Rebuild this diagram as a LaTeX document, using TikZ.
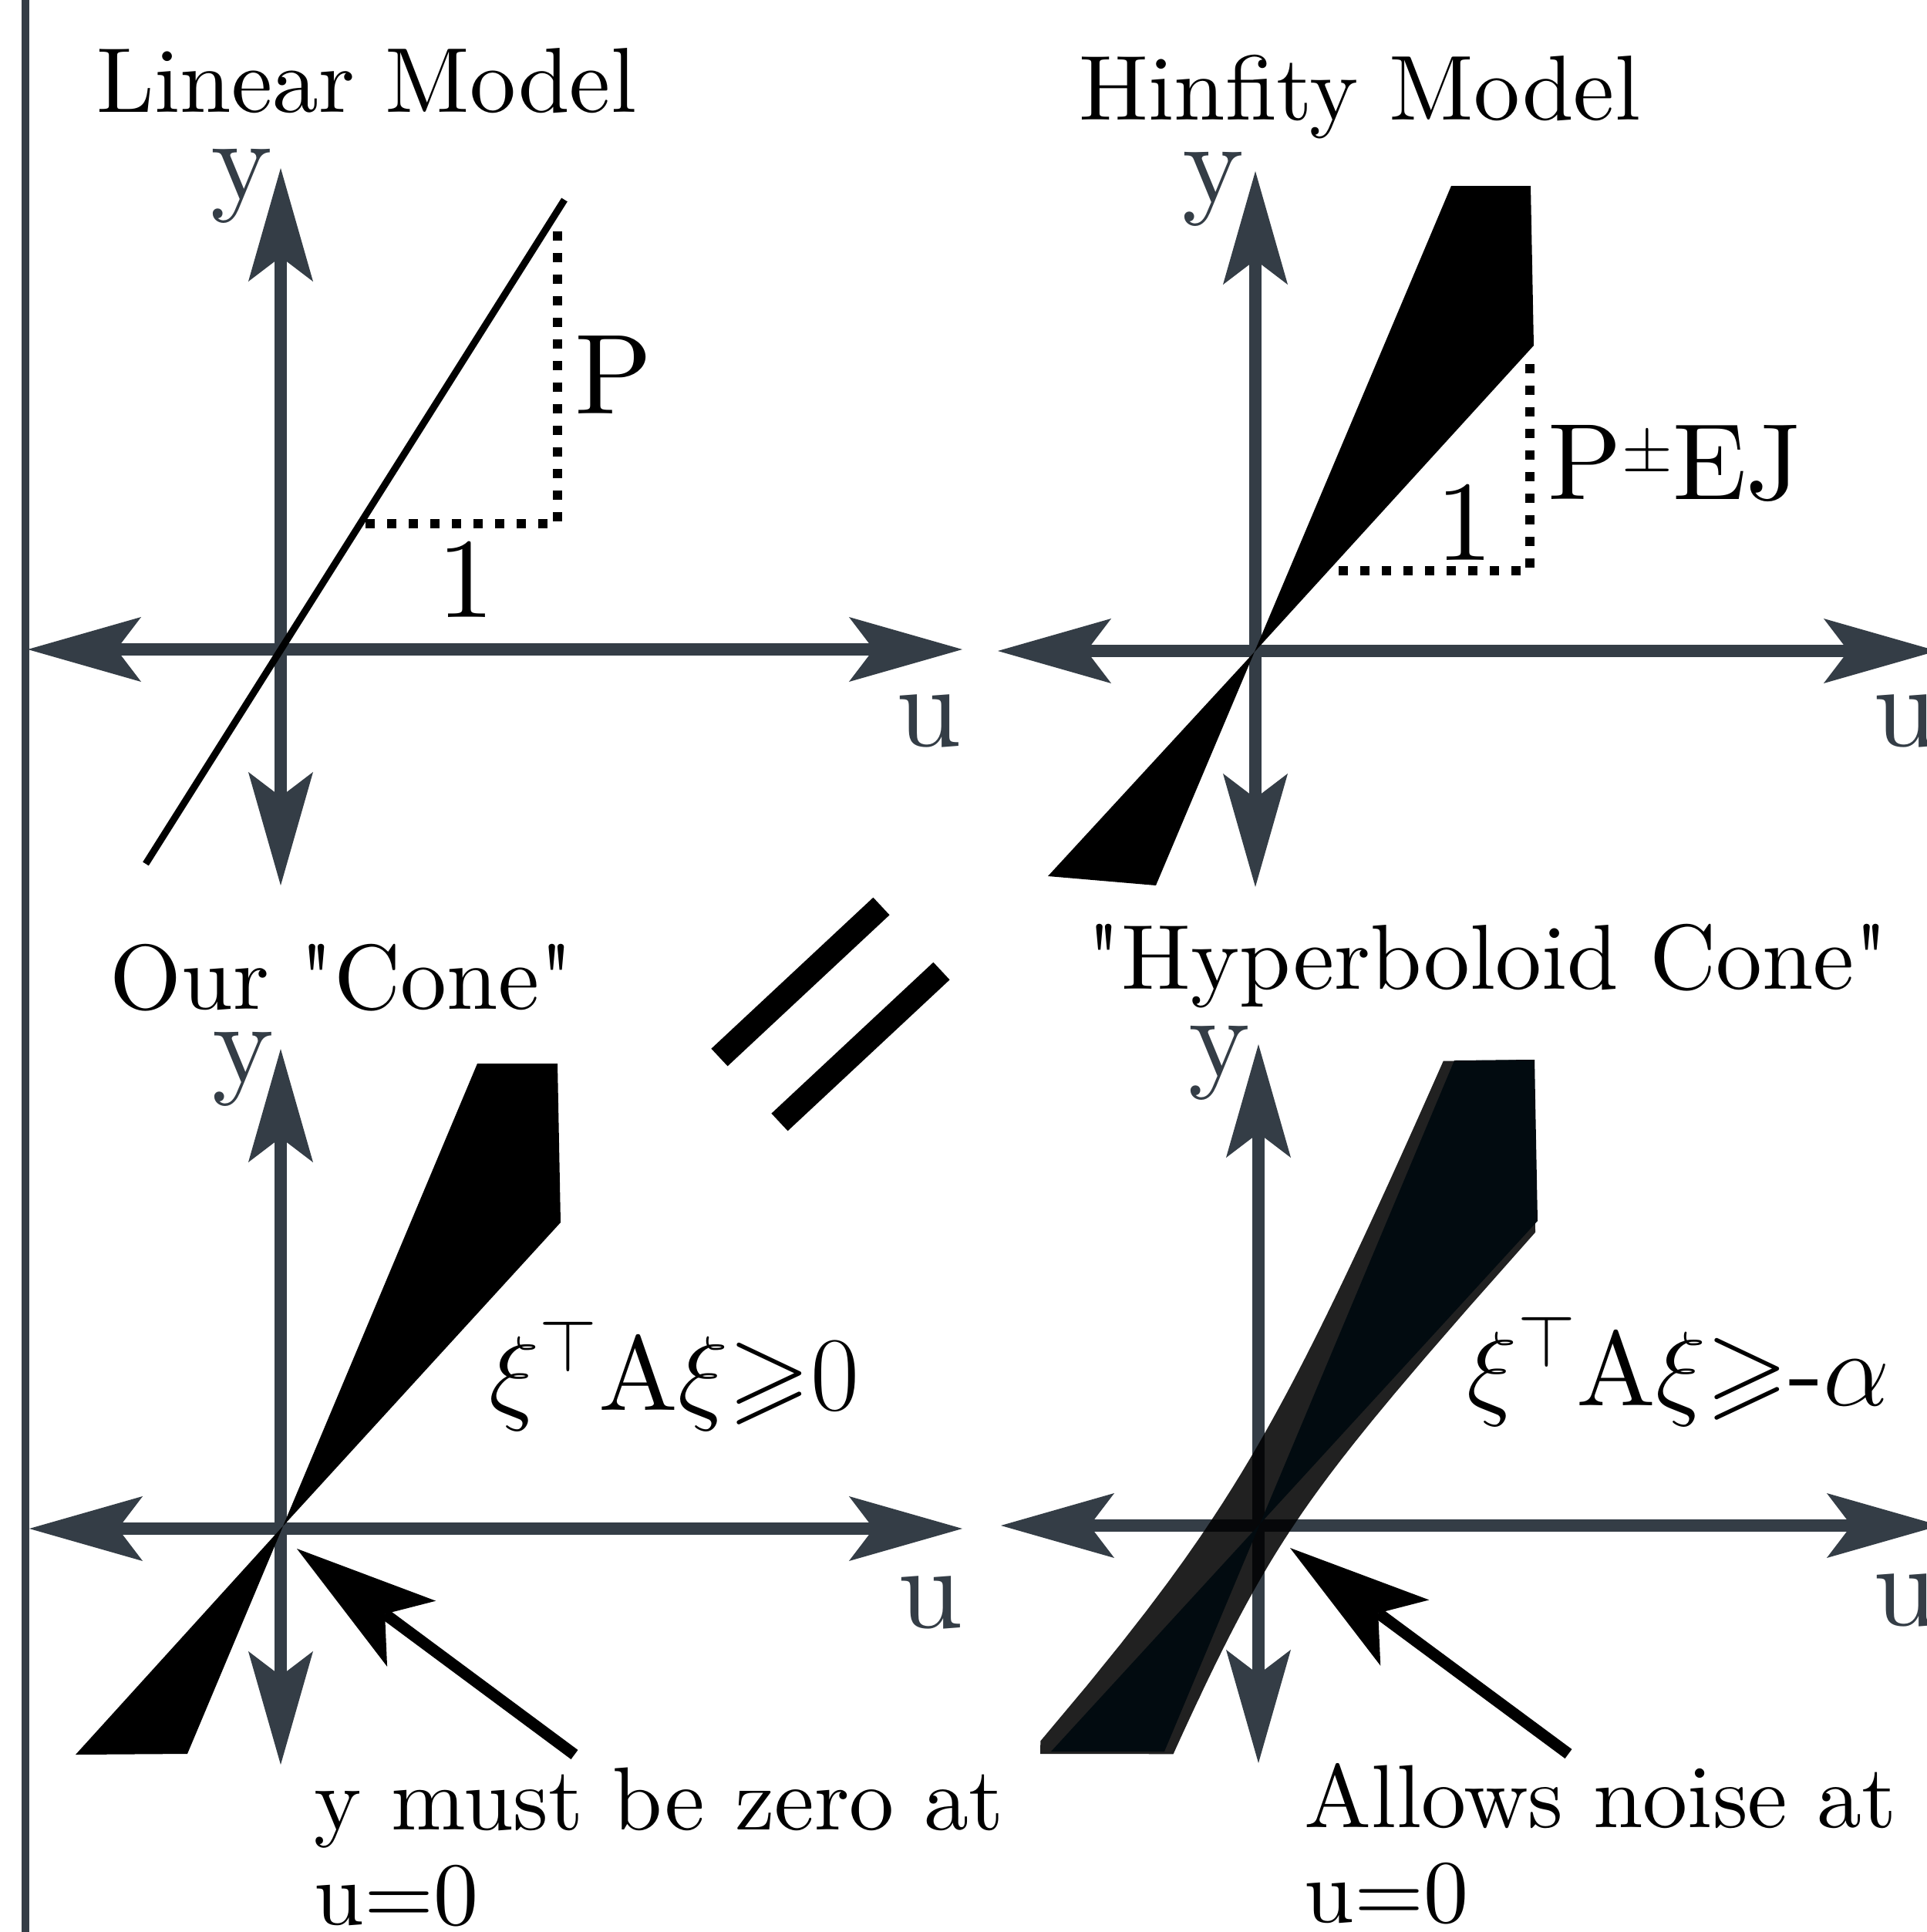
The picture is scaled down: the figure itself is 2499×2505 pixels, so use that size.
\documentclass[tikz,border=0pt]{standalone}
\usepackage{fix-cm}
\usepackage{amsmath,amssymb}
\usepackage{fontspec}
\setmainfont{lmroman10-regular.otf}[Ligatures=TeXOff]
\usetikzlibrary{arrows.meta}

\definecolor{axiscol}{RGB}{52,61,70}
\definecolor{conecol}{RGB}{2,11,16}

\begin{document}
\begin{tikzpicture}[
  x=0.01cm,y=-0.01cm,
  axtip/.tip={Stealth[length=14.7mm,width=8.4mm,inset=3.2mm,line width=0pt]},
  ptip/.tip={Stealth[length=18.5mm,width=10.6mm,inset=4.3mm,line width=0pt]},
  axis/.style={draw=axiscol,line width=1.6mm,axtip-axtip},
  pointer/.style={draw=black,line width=1.5mm,-ptip},
  dotline/.style={line width=1.2mm,dash pattern=on 1.2mm off 1.6mm},
  eqbar/.style={line width=3.1mm},
  title/.style={inner sep=0pt,anchor=base west,font=\fontsize{34}{40}\selectfont},
  axlab/.style={inner sep=0pt,anchor=base west,text=axiscol,font=\fontsize{43}{50}\selectfont},
  lab/.style={inner sep=0pt,anchor=base west,font=\fontsize{42}{50}\selectfont},
  formula/.style={inner sep=0pt,anchor=base west,font=\fontsize{39}{46}\selectfont},
  note/.style={inner sep=0pt,anchor=base west,font=\fontsize{33}{40}\selectfont}
]
  \useasboundingbox (0,0) rectangle (2499,2505);

  % frame line on the left
  \coordinate (fr0) at (33,0);
  \coordinate (fr1) at (33,2505);
  \draw[draw=axiscol,line width=1mm] (fr0)--(fr1);

  % axes
  \coordinate (o1) at (364,842);
  \coordinate (w1) at (36,842);    \coordinate (e1) at (1248,842);
  \coordinate (n1) at (364,218);   \coordinate (s1) at (364,1148);
  \coordinate (o2) at (1628,844);
  \coordinate (w2) at (1294,844);  \coordinate (e2) at (2512,844);
  \coordinate (n2) at (1628,222);  \coordinate (s2) at (1628,1150);
  \coordinate (o3) at (364,1982);
  \coordinate (w3) at (38,1982);   \coordinate (e3) at (1248,1982);
  \coordinate (n3) at (364,1360);  \coordinate (s3) at (364,2288);
  \coordinate (o4) at (1632,1978);
  \coordinate (w4) at (1298,1978); \coordinate (e4) at (2516,1978);
  \coordinate (n4) at (1632,1354); \coordinate (s4) at (1632,2286);
  \draw[axis] (w1)--(e1);  \draw[axis] (s1)--(n1);
  \draw[axis] (w2)--(e2);  \draw[axis] (s2)--(n2);
  \draw[axis] (w3)--(e3);  \draw[axis] (s3)--(n3);
  \draw[axis] (w4)--(e4);  \draw[axis] (s4)--(n4);

  \node[axlab] (y1) at (273,258)   {y};
  \node[axlab] (u1) at (1162,967)  {u};
  \node[axlab] (y2) at (1533,262)  {y};
  \node[axlab] (u2) at (2429,967)  {u};
  \node[axlab] (y3) at (275,1403)  {y};
  \node[axlab] (u3) at (1164,2110) {u};
  \node[axlab] (y4) at (1541,1395) {y};
  \node[axlab] (u4) at (2429,2107) {u};

  % linear model
  \coordinate (ln0) at (189,1120);
  \coordinate (ln1) at (732,259);
  \draw[line width=0.9mm] (ln0)--(ln1);
  \draw[dotline] (474,679)--(723,679)--(723,289);
  \node[lab] (lp1)   at (745,536) {P};
  \node[lab] (lone1) at (567,800) {1};

  % hinfity model
  \fill (1882,241)--(1985,241)--(1989,448)--(o2)--(1359,1136)--(1499,1148)--cycle;
  \draw[dotline] (1736,740)--(1984,740)--(1984,467);
  \node[lab] (lone2) at (1862,726) {1};
  \node[lab,font=\fontsize{40}{48}\selectfont] (lpej) at (2007,647)
    {P\raisebox{10pt}{\fontsize{24}{24}\selectfont$\pm$}EJ};

  % our cone
  \fill (619,1379)--(723,1379)--(727,1585)--(o3)--(98,2275)--(243,2274)--cycle;
  \node[formula] (fa) at (634,1828) {$\xi^{\top}\mathrm{A}\xi{\geqslant}0$};

  % hyperboloid cone: two hyperbola branches around the cone
  \fill[black,opacity=0.87]
    plot[domain=0.355:4.27,samples=50,variable=\t]
      ({1632+160*(0.388*\t-0.676/\t)},{1978+160*(-0.922*\t+0.736/\t)})
    --(1990,1374)--(1991,1598)
    -- plot[domain=0.2024:3.17,samples=50,variable=\s]
      ({1632+110*(0.676/\s-0.384*\s)},{1978+110*(-0.737/\s+0.923*\s)})
    --(1349,2274)--cycle;
  \fill[conecol] (1886,1375)--(1990,1374)--(1994,1583)--(o4)--(1363,2271)--(1510,2271)--cycle;
  \node[formula] (fb) at (1902,1822) {$\xi^{\top}\mathrm{A}\xi{\geqslant}$-$\alpha$};

  % equals sign
  \coordinate (eqa0) at (933,1371);  \coordinate (eqa1) at (1143,1175);
  \coordinate (eqb0) at (1011,1455); \coordinate (eqb1) at (1221,1259);
  \draw[eqbar] (eqa0)--(eqa1);
  \draw[eqbar] (eqb0)--(eqb1);

  % pointers
  \coordinate (pa0) at (745,2275);  \coordinate (pa1) at (385,2008);
  \coordinate (pb0) at (2034,2274); \coordinate (pb1) at (1673,2007);
  \draw[pointer] (pa0)--(pa1);
  \draw[pointer] (pb0)--(pb1);

  % titles and notes
  \node[title] (tlin)  at (125,145)  {Linear Model};
  \node[title] (thinf) at (1399,155) {Hinfity Model};
  \node[title] (tcone) at (142,1308) {Our "Cone"};
  \node[title] (thyp)  at (1409,1282) {"Hyperboloid Cone"};
  \node[note] (na1) at (407,2372)  {y must be zero at};
  \node[note] (na2) at (407,2495)  {u=0};
  \node[note] (nb1) at (1691,2369) {Allows noise at};
  \node[note] (nb2) at (1691,2492) {u=0};
\end{tikzpicture}
\end{document}
